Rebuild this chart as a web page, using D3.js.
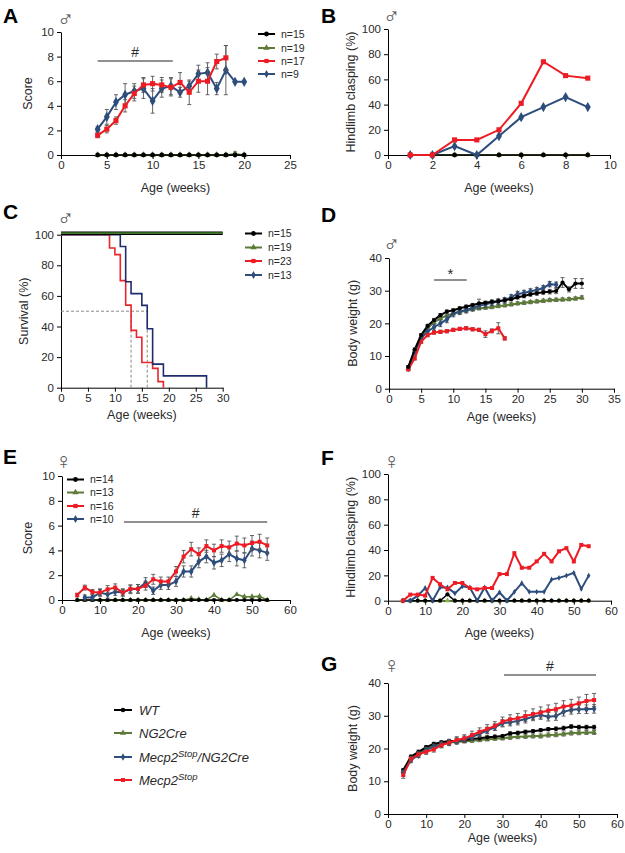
<!DOCTYPE html>
<html><head><meta charset="utf-8">
<script src="https://cdn.jsdelivr.net/npm/d3@7"></script>
<style>
body{margin:0;background:#fff}
svg{display:block}
text{font-family:"Liberation Sans",Arial,Helvetica,sans-serif}
</style>
</head><body>
<svg id="chart" width="625" height="853"></svg>
<script>
// ---------------- DATA ----------------
const groups = ["WT", "NG2Cre", "Mecp2Stop/NG2Cre", "Mecp2Stop"];

// Panel A (male score)
const A_weeks = [4,5,6,7,8,9,10,11,12,13,14,15,16,17,18,19,20];
const A_WT    = [0,0,0,0,0,0,0,0,0,0,0,0,0,0,0,0,0];
const A_NG2   = [0,0,0,0,0,0,0,0,0,0,0,0,0,0,0,0.1,0];
const A_NG2_e = [0,0,0,0,0,0,0,0,0,0,0,0,0,0,0,0.15,0];
const A_DBL   = [2.1,3.1,4.3,4.9,5.2,5.4,4.4,5.4,5.6,5.1,5.6,6.6,6.7,5.4,6.9,5.95,5.95];
const A_DBL_e = [0.2,0.6,0.6,0.9,0.6,0.8,1.0,0.7,0.7,0.4,0.4,0.7,0.8,0.5,2.0,0,0];
const A_STOP_weeks = [4,5,6,7,8,9,10,11,12,13,14,15,16,17,18];
const A_STOP   = [1.6,2.1,2.8,4.0,5.0,5.7,5.8,5.7,5.5,5.9,5.1,6.0,6.0,7.6,7.9];
const A_STOP_e = [0.2,0.3,0.3,0.5,0.6,0.6,0.6,0.6,0.7,0.8,1.0,0.9,1.1,0.6,1.0];
const A_n = ["n=15","n=19","n=17","n=9"];

// Panel B (male hindlimb clasping %)
const B_weeks = [1,2,3,4,5,6,7,8,9];
const B_WT   = [0,0,0,0,0,0,0,0,0];
const B_NG2  = [0,0,0,0,0,0,0,0,0];
const B_DBL  = [0,0,7,0,15,30,38,46,38];
const B_STOP = [0,0,12,12,20,41,74,63,61];

// Panel C (male survival %)
const C_ctrl_t = [0,30];
const C_WT   = [101,101];
const C_NG2  = [101,101];
const C_DBL_t  = [0,11,12,13,15,16,17,19,27];
const C_DBL    = [100,92.3,69.2,61.5,53.8,38.5,15.4,7.7,0];
const C_STOP_t = [0,9,10,11,12,13,14,15,17,18,19];
const C_STOP   = [100,91.3,87,70,54,37.5,33,16.5,12.6,4,0];
const C_median = [13,16];
const C_n = ["n=15","n=19","n=23","n=13"];

// Panel D (male body weight g)
const D_weeks = [3,4,5,6,7,8,9,10,11,12,13,14,15,16,17,18,19,20,21,22,23,24,25,26,27,28,29,30];
const D_WT    = [6.7,12,16.4,19.2,21,22.5,23.6,24,24.6,25.1,25.6,26.1,26.3,26.6,26.8,27.1,27.4,28,28.4,28.9,29.2,29.5,29.7,29.9,32.5,30.4,32.2,32.2];
const D_WT_e  = [0.4,0.5,0.5,0.5,0.5,0.5,0.5,0.5,0.5,0.5,0.5,1.3,0.5,0.5,0.5,0.5,0.5,0.6,0.6,0.6,0.6,0.6,0.7,0.8,1.5,0.8,1.5,1.5];
const D_NG2   = [6.2,11.5,16,18.5,20.3,21.5,22.4,23,23.5,23.9,24.3,24.6,24.8,25,25.3,25.5,25.8,26.1,26.3,26.5,26.7,26.9,27.1,27.2,27.3,27.4,27.6,27.9];
const D_NG2_e = [0.4,0.4,0.4,0.4,0.4,0.4,0.4,0.4,0.5,0.5,0.5,0.5,0.5,0.5,0.5,0.5,0.5,0.5,0.5,0.5,0.5,0.5,0.5,0.5,0.5,0.5,0.5,0.5];
const D_DBL_weeks = [3,4,5,6,7,8,9,10,11,12,13,14,15,16,17,18,19,20,21,22,23,24,25,26];
const D_DBL   = [6.3,11.2,15.5,17.5,18.8,20,21.2,23,23.6,24.1,24.7,25.4,25.8,26.3,26.7,27.1,28,29,29.3,29.8,30.2,30.8,32,31.8];
const D_DBL_e = [0.5,0.6,0.7,0.8,0.9,1,1,1,0.9,0.9,0.9,0.9,0.9,0.8,0.8,0.8,0.8,0.8,0.8,0.8,0.8,0.8,0.8,0.8];
const D_STOP_weeks = [3,4,5,6,7,8,9,10,11,12,13,14,15,16,17,18];
const D_STOP   = [5.9,9.3,14.4,16.4,17.2,17.4,17.6,18,18.3,18.5,18.2,18,16.7,17.7,18.5,15.4];
const D_STOP_e = [0.4,0.5,0.5,0.5,0.5,0.5,0.5,0.5,0.5,0.5,0.5,0.5,1.0,0.6,1.7,0.5];

// Panel E (female score)
const E_weeks = [4,6,8,10,12,14,16,18,20,22,24,26,28,30,32,34,36,38,40,42,44,46,48,50,52,54];
const E_WT    = [0,0,0,0,0,0,0,0,0,0,0,0,0,0,0,0,0,0,0,0,0,0,0,0,0,0];
const E_NG2   = [0,0,0,0,0,0,0,0,0,0,0,0,0,0,0,0.13,0.05,0,0.4,0,0,0.45,0.27,0.27,0.3,0];
const E_STOP  = [0.4,1.0,0.65,0.6,0.86,1.0,0.6,0.9,0.9,1.15,1.67,1.5,1.5,2.3,3.5,4.1,3.7,4.35,4.0,4.35,4.25,4.55,4.4,4.6,4.7,4.4];
const E_STOP_e= [0.15,0.2,0.2,0.25,0.3,0.3,0.25,0.3,0.35,0.35,0.4,0.35,0.35,0.4,0.5,0.55,0.5,0.5,0.5,0.5,0.5,0.6,0.6,0.6,0.6,0.6];
const E_DBL_weeks = [6,8,10,12,14,16,18,20,22,24,26,28,30,32,34,36,38,40,42,44,46,48,50,52,54];
const E_DBL   = [0.2,0.2,0.6,0.45,0.67,0.6,0.86,0.9,1.4,0.75,1.2,1.2,1.5,2.3,2.3,3.1,3.5,3.0,3.2,3.7,3.35,3.2,4.15,4.0,3.8];
const E_DBL_e = [0.2,0.2,0.3,0.3,0.3,0.3,0.35,0.35,0.4,0.3,0.35,0.35,0.4,0.45,0.45,0.5,0.5,0.5,0.5,0.6,0.6,0.6,0.6,0.6,0.6];
const E_n = ["n=14","n=13","n=16","n=10"];

// Panel F (female hindlimb clasping %)
const F_weeks = [4,6,8,10,12,14,16,18,20,22,24,26,28,30,32,34,36,38,40,42,44,46,48,50,52,54];
const F_WT   = [0,0,0,0,0,0,5,0,0,0,0,0,0,0,0,0,0,0,0,0,0,0,0,0,0,0];
const F_NG2  = [0,0,0,0,0,0,0,0,0,0,0,0,0,0,0,0,0,0,0,0,0,0,0,0,0,0];
const F_DBL  = [0,0,4,10,0,10.5,10.5,5.8,11.4,10.5,0,10.5,0,6.6,0,7,13.8,7,7,7,16.7,18,19.8,22,9.3,19.8];
const F_STOP = [0,4.8,4.8,4,18,13,9,14,14,10,9,10,10,21,21,37.5,26,26,31,37,31,39,41.5,31,44,43];

// Panel G (female body weight g)
const G_weeks = [4,6,8,10,12,14,16,18,20,22,24,26,28,30,32,34,36,38,40,42,44,46,48,50,52,54];
const G_WT    = [13.4,17.5,19,20.4,21.4,21.9,22.3,22.4,22.6,22.9,23.1,23.4,23.6,23.8,24.6,24.8,25.1,25.3,25.6,25.9,26,26.2,26.7,26.5,26.5,26.5];
const G_WT_e  = [0.5,0.5,0.5,0.5,0.5,0.5,0.5,0.5,0.5,0.5,0.5,0.5,0.5,0.5,0.5,0.5,0.5,0.5,0.5,0.5,0.6,0.6,0.6,0.6,0.6,0.6];
const G_NG2   = [13,17,18.6,20,21,21.5,21.8,22,22.2,22.4,22.6,22.8,23,23.1,23.4,23.6,23.7,23.8,23.8,24.1,24.2,24.4,24.7,24.8,24.9,24.9];
const G_NG2_e = [0.5,0.5,0.5,0.5,0.5,0.5,0.5,0.5,0.5,0.5,0.5,0.5,0.5,0.5,0.6,0.6,0.6,0.6,0.6,0.6,0.6,0.6,0.6,0.6,0.6,0.6];
const G_DBL   = [12.5,16.5,18,19.5,20.5,21.2,21.8,22.3,22.8,23.5,24.5,25.5,26.5,27.7,28,28.4,29,29.7,30.2,29.7,29.9,31.2,31.8,32,32,32.1];
const G_DBL_e = [0.8,0.8,0.8,0.8,0.8,0.8,0.9,1,1,1,1,1,1,1.1,1.1,1.2,1.2,1.2,1.3,1.3,1.3,1.3,1.3,1.3,1.3,1.3];
const G_STOP  = [11.9,16.8,18.2,19,19.7,21,21.8,22.6,23.1,24.1,25.1,26,26.9,28.2,28.9,29.2,29.9,30.5,31,31.6,32,32.8,33.1,33.8,34.5,34.8];
const G_STOP_e= [1,0.8,0.8,0.8,0.8,0.8,0.9,1,1.1,1.2,1.2,1.3,1.3,1.4,1.4,1.5,1.6,1.6,1.7,1.7,1.8,1.8,1.9,1.9,2,2];

// Significance bars [from, to] in weeks
const A_sig = [4, 12.2];
const D_sig = [7, 12.1];
const E_sig = [16.3, 54];
const G_sig = [30.4, 54.5];

// ---------------- STYLE ----------------
const COL = {WT:"#000000", NG2:"#5d7b36", DBL:"#2d4d7d", STOP:"#ed1c24"};
const SYM = {WT:d3.symbolCircle, NG2:d3.symbolTriangle, DBL:d3.symbolDiamond, STOP:d3.symbolSquare};
const TXT = "#2a2a2a";

const svg = d3.select("#chart");

function panel(o){
  const g = svg.append("g");
  const x = d3.scaleLinear().domain(o.xd).range(o.xr);
  const y = d3.scaleLinear().domain(o.yd).range(o.yr);
  const ax = g.append("g").attr("transform", `translate(0,${o.yr[0]})`)
    .call(d3.axisBottom(x).tickValues(o.xt).tickSize(4).tickSizeOuter(0).tickPadding(2));
  const ay = g.append("g").attr("transform", `translate(${o.xr[0]},0)`)
    .call(d3.axisLeft(y).tickValues(o.yt).tickSize(4).tickSizeOuter(0).tickPadding(3));
  [ax, ay].forEach(a => {
    a.selectAll("text").attr("font-size", 11.5).attr("fill", TXT)
      .attr("font-family", '"Liberation Sans",Arial,sans-serif');
    a.selectAll("path,line").attr("stroke", "#000").attr("stroke-width", 1);
  });
  // titles
  g.append("text").attr("x", (o.xr[0] + o.xr[1]) / 2).attr("y", o.xtY)
    .attr("text-anchor", "middle").attr("font-size", 12.5).attr("fill", TXT).text("Age (weeks)");
  g.append("text").attr("transform", `translate(${o.ytX},${(o.yr[0] + o.yr[1]) / 2}) rotate(-90)`)
    .attr("text-anchor", "middle").attr("font-size", 12.5).attr("fill", TXT).text(o.yTitle);
  // letter & sex
  g.append("text").attr("x", o.letter[1]).attr("y", o.letter[2]).attr("font-size", 21)
    .attr("font-weight", "bold").attr("fill", "#000").text(o.letter[0]);
  g.append("text").attr("x", o.sex[1]).attr("y", o.sex[2]).attr("font-size", 23)
    .attr("font-family", '"DejaVu Sans",sans-serif').attr("fill", "#555").text(o.sex[0]);
  return {g, x, y};
}

function series(p, s, opt){
  const pts = s.x.map((d, i) => ({x: d, y: s.y[i], e: s.e ? s.e[i] : 0}));
  const line = d3.line().x(d => p.x(d.x)).y(d => p.y(d.y));
  p.g.append("path").datum(pts).attr("d", line).attr("fill", "none")
    .attr("stroke", COL[s.k]).attr("stroke-width", opt.lw);
  // error bars
  const eb = p.g.append("g").attr("stroke", "#555").attr("stroke-width", 0.9);
  pts.filter(d => d.e > 0).forEach(d => {
    const cx = p.x(d.x), y1 = p.y(d.y - d.e), y2 = p.y(d.y + d.e);
    eb.append("line").attr("x1", cx).attr("x2", cx).attr("y1", y1).attr("y2", y2);
    eb.append("line").attr("x1", cx - 2).attr("x2", cx + 2).attr("y1", y1).attr("y2", y1);
    eb.append("line").attr("x1", cx - 2).attr("x2", cx + 2).attr("y1", y2).attr("y2", y2);
  });
  const col = s.k === "NG2" && opt.lightTri ? "#8fb050" : COL[s.k];
  p.g.append("g").selectAll("path").data(pts).join("path")
    .attr("transform", d => `translate(${p.x(d.x)},${p.y(d.y)})`)
    .attr("d", d3.symbol().type(SYM[s.k]).size(opt.ms[s.k]))
    .attr("fill", col);
}

function miniLegend(g, x0, ys, labels){
  const keys = ["WT","NG2","STOP","DBL"];
  keys.forEach((k, i) => {
    const c = COL[k];
    g.append("line").attr("x1", x0).attr("x2", x0 + 17).attr("y1", ys[i]).attr("y2", ys[i])
      .attr("stroke", c).attr("stroke-width", 2);
    g.append("path").attr("transform", `translate(${x0 + 8.5},${ys[i]})`)
      .attr("d", d3.symbol().type(SYM[k]).size(18)).attr("fill", c);
    g.append("text").attr("x", x0 + 23).attr("y", ys[i] + 3.8).attr("font-size", 10.5)
      .attr("fill", TXT).text(labels[i]);
  });
}

function sigBar(p, range, y, sym){
  p.g.append("line").attr("x1", p.x(range[0])).attr("x2", p.x(range[1]))
    .attr("y1", y).attr("y2", y).attr("stroke", "#222").attr("stroke-width", 1.2);
  p.g.append("text").attr("x", (p.x(range[0]) + p.x(range[1])) / 2).attr("y", y - 4)
    .attr("text-anchor", "middle").attr("font-size", 14).attr("fill", TXT).text(sym);
}

const msBig = {WT:18, NG2:18, DBL:30, STOP:26};
const msSmall = {WT:14, NG2:14, DBL:18, STOP:16};

// ---------- A ----------
{
  const p = panel({xd:[0,25], xr:[61,290], yd:[0,10], yr:[155,32], xt:[0,5,10,15,20,25], yt:[0,2,4,6,8,10],
    xtY:192, ytX:32, yTitle:"Score", letter:["A",3,23], sex:["\u2642",57,27]});
  series(p, {k:"NG2", x:A_weeks, y:A_NG2, e:A_NG2_e}, {lw:1.5, ms:msBig});
  series(p, {k:"WT", x:A_weeks, y:A_WT}, {lw:1.5, ms:msBig});
  series(p, {k:"DBL", x:A_weeks, y:A_DBL, e:A_DBL_e}, {lw:2, ms:msBig});
  series(p, {k:"STOP", x:A_STOP_weeks, y:A_STOP, e:A_STOP_e}, {lw:2, ms:msBig});
  sigBar(p, A_sig, 61, "#");
  miniLegend(p.g, 258, [34,48,61,74], A_n);
}
// ---------- B ----------
{
  const p = panel({xd:[0,10], xr:[388,610], yd:[0,100], yr:[155,29], xt:[0,2,4,6,8,10], yt:[0,20,40,60,80,100],
    xtY:192, ytX:355, yTitle:"Hindlimb clasping (%)", letter:["B",321,23], sex:["\u2642",383,24]});
  series(p, {k:"NG2", x:B_weeks, y:B_NG2}, {lw:1.5, ms:msBig, lightTri:true});
  series(p, {k:"WT", x:B_weeks, y:B_WT}, {lw:1.5, ms:msBig});
  series(p, {k:"DBL", x:B_weeks, y:B_DBL}, {lw:2, ms:msBig});
  series(p, {k:"STOP", x:B_weeks, y:B_STOP}, {lw:2, ms:msBig});
}
// ---------- C ----------
{
  const p = panel({xd:[0,30], xr:[61,222.7], yd:[0,100], yr:[387.7,234.7], xt:[0,5,10,15,20,25,30], yt:[0,20,40,60,80,100],
    xtY:419, ytX:28, yTitle:"Survival (%)", letter:["C",3,219], sex:["\u2642",57,226]});
  const step = d3.line().x(d => p.x(d[0])).y(d => p.y(d[1])).curve(d3.curveStepAfter);
  // dashed median lines
  const dg = p.g.append("g").attr("stroke", "#888").attr("stroke-width", 1).attr("stroke-dasharray", "3,2");
  dg.append("line").attr("x1", p.x(0)).attr("x2", p.x(C_median[1])).attr("y1", p.y(50)).attr("y2", p.y(50));
  C_median.forEach(m => dg.append("line").attr("x1", p.x(m)).attr("x2", p.x(m)).attr("y1", p.y(0)).attr("y2", p.y(50)));
  p.g.append("path").datum(C_STOP_t.map((t, i) => [t, C_STOP[i]])).attr("d", step)
    .attr("fill", "none").attr("stroke", "#e8262b").attr("stroke-width", 1.6);
  p.g.append("path").datum(C_DBL_t.map((t, i) => [t, C_DBL[i]])).attr("d", step)
    .attr("fill", "none").attr("stroke", "#1f2c6c").attr("stroke-width", 1.6);
  p.g.append("path").datum(C_ctrl_t.map((t, i) => [t, C_WT[i]])).attr("d", step)
    .attr("fill", "none").attr("stroke", "#000").attr("stroke-width", 3.5);
  p.g.append("path").datum(C_ctrl_t.map((t, i) => [t, C_NG2[i]])).attr("d", step)
    .attr("fill", "none").attr("stroke", "#3f7a2a").attr("stroke-width", 1.8);
  miniLegend(p.g, 245, [233.5,247.5,261,275], C_n);
}
// ---------- D ----------
{
  const p = panel({xd:[0,35], xr:[389,614], yd:[0,40], yr:[388.7,258], xt:[0,5,10,15,20,25,30,35], yt:[0,10,20,30,40],
    xtY:421, ytX:357, yTitle:"Body weight (g)", letter:["D",321,222], sex:["\u2642",383,252]});
  series(p, {k:"NG2", x:D_weeks, y:D_NG2, e:D_NG2_e}, {lw:2, ms:msSmall});
  series(p, {k:"DBL", x:D_DBL_weeks, y:D_DBL, e:D_DBL_e}, {lw:2, ms:msSmall});
  series(p, {k:"STOP", x:D_STOP_weeks, y:D_STOP, e:D_STOP_e}, {lw:2, ms:msSmall});
  series(p, {k:"WT", x:D_weeks, y:D_WT, e:D_WT_e}, {lw:2, ms:msSmall});
  p.g.append("line").attr("x1", p.x(D_sig[0])).attr("x2", p.x(D_sig[1])).attr("y1", 280).attr("y2", 280)
    .attr("stroke", "#222").attr("stroke-width", 1.2);
  p.g.append("text").attr("x", (p.x(D_sig[0]) + p.x(D_sig[1])) / 2).attr("y", 279)
    .attr("text-anchor", "middle").attr("font-size", 15).attr("fill", TXT).text("*");
}
// ---------- E ----------
{
  const p = panel({xd:[0,60], xr:[62,290], yd:[0,10], yr:[600,476], xt:[0,10,20,30,40,50,60], yt:[0,2,4,6,8,10],
    xtY:637, ytX:32, yTitle:"Score", letter:["E",3,464], sex:["\u2640",55,469]});
  series(p, {k:"NG2", x:E_weeks, y:E_NG2}, {lw:1.5, ms:msSmall});
  series(p, {k:"WT", x:E_weeks, y:E_WT}, {lw:1.5, ms:msSmall});
  series(p, {k:"DBL", x:E_DBL_weeks, y:E_DBL, e:E_DBL_e}, {lw:2, ms:msSmall});
  series(p, {k:"STOP", x:E_weeks, y:E_STOP, e:E_STOP_e}, {lw:2, ms:msSmall});
  sigBar(p, E_sig, 522, "#");
  miniLegend(p.g, 67, [479.5,492.5,506,519], E_n);
}
// ---------- F ----------
{
  const p = panel({xd:[0,60], xr:[388,611], yd:[0,100], yr:[600.7,474], xt:[0,10,20,30,40,50,60], yt:[0,20,40,60,80,100],
    xtY:637, ytX:355, yTitle:"Hindlimb clasping (%)", letter:["F",321,465], sex:["\u2640",383,469]});
  series(p, {k:"NG2", x:F_weeks, y:F_NG2}, {lw:1.5, ms:msSmall, lightTri:true});
  series(p, {k:"WT", x:F_weeks, y:F_WT}, {lw:1.5, ms:msSmall});
  series(p, {k:"DBL", x:F_weeks, y:F_DBL}, {lw:2, ms:{WT:0,NG2:0,DBL:10,STOP:0}});
  series(p, {k:"STOP", x:F_weeks, y:F_STOP}, {lw:2, ms:msSmall});
}
// ---------- G ----------
{
  const p = panel({xd:[0,60], xr:[388,617], yd:[0,40], yr:[814,683], xt:[0,10,20,30,40,50,60], yt:[0,10,20,30,40],
    xtY:842, ytX:357, yTitle:"Body weight (g)", letter:["G",321,671], sex:["\u2640",383,673]});
  series(p, {k:"NG2", x:G_weeks, y:G_NG2, e:G_NG2_e}, {lw:2, ms:msSmall});
  series(p, {k:"WT", x:G_weeks, y:G_WT, e:G_WT_e}, {lw:2, ms:msSmall});
  series(p, {k:"DBL", x:G_weeks, y:G_DBL, e:G_DBL_e}, {lw:2, ms:msSmall});
  series(p, {k:"STOP", x:G_weeks, y:G_STOP, e:G_STOP_e}, {lw:2, ms:msSmall});
  sigBar(p, G_sig, 675, "#");
}
// ---------- bottom legend ----------
{
  const lg = svg.append("g");
  const keys = ["WT","NG2","DBL","STOP"];
  const ys = [710, 733, 757, 780];
  keys.forEach((k, i) => {
    lg.append("line").attr("x1", 114).attr("x2", 132).attr("y1", ys[i]).attr("y2", ys[i])
      .attr("stroke", COL[k]).attr("stroke-width", 2);
    lg.append("path").attr("transform", `translate(123,${ys[i]})`)
      .attr("d", d3.symbol().type(SYM[k]).size(16)).attr("fill", COL[k]);
    const t = lg.append("text").attr("x", 139).attr("y", ys[i] + 4.5).attr("font-size", 13)
      .attr("font-style", "italic").attr("fill", TXT);
    const lab = groups[i];
    if (lab.startsWith("Mecp2Stop")) {
      t.append("tspan").text("Mecp2");
      t.append("tspan").attr("dy", -5).attr("font-size", 9.5).text("Stop");
      if (lab.length > 9) t.append("tspan").attr("dy", 5).text(lab.slice(9));
    } else {
      t.text(lab);
    }
  });
}
</script>
</body></html>
